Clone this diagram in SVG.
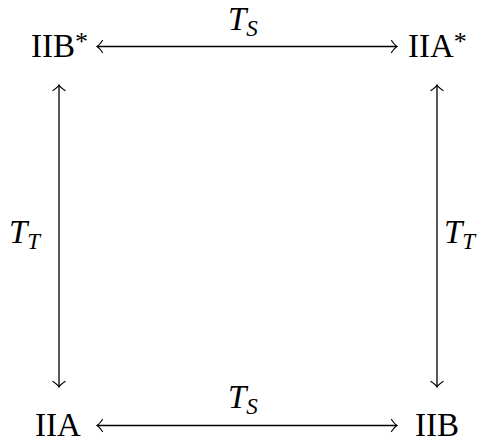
<svg xmlns="http://www.w3.org/2000/svg" width="478" height="442" viewBox="0 0 478 442">
<style>
.n{font-family:"Liberation Serif","Times New Roman",serif;font-size:33px;fill:#000}
.sup{font-size:26px}
.m{font-family:"Liberation Serif","Times New Roman",serif;font-style:italic;font-size:33px;fill:#000}
.sub{font-size:23px}
.c{stroke:#000;stroke-width:1.3;fill:none}
</style>
<defs>
<marker id="tip" markerUnits="userSpaceOnUse" viewBox="-8 -8 10 16" refX="0" refY="0" markerWidth="10" markerHeight="16" orient="auto-start-reverse" overflow="visible">
<path d="M-5.5,-6 Q-2,-1 0,0 Q-2,1 -5.5,6" fill="none" stroke="#000" stroke-width="1.2" stroke-linecap="round"/>
</marker>
</defs>
<rect width="478" height="442" fill="#fff"/>
<g id="connectors">
<line class="c" x1="97" y1="46.5" x2="397" y2="46.5" marker-start="url(#tip)" marker-end="url(#tip)"/>
<line class="c" x1="97" y1="425.5" x2="397" y2="425.5" marker-start="url(#tip)" marker-end="url(#tip)"/>
<line class="c" x1="59" y1="85" x2="59" y2="387" marker-start="url(#tip)" marker-end="url(#tip)"/>
<line class="c" x1="437" y1="85" x2="437" y2="387" marker-start="url(#tip)" marker-end="url(#tip)"/>
<text class="m" x="228" y="30">T<tspan class="sub" dy="6">S</tspan></text>
<text class="m" x="228" y="408">T<tspan class="sub" dy="6">S</tspan></text>
<text class="m" x="9" y="243">T<tspan class="sub" dy="6">T</tspan></text>
<text class="m" x="444" y="243">T<tspan class="sub" dy="6">T</tspan></text>
</g>
<g id="IIBstar"><text class="n" x="31" y="57">IIB<tspan class="sup" dy="-7">*</tspan></text></g>
<g id="IIAstar"><text class="n" x="408" y="57">IIA<tspan class="sup" dy="-7">*</tspan></text></g>
<g id="IIA"><text class="n" x="35" y="436">IIA</text></g>
<g id="IIB"><text class="n" x="415" y="436">IIB</text></g>
</svg>
